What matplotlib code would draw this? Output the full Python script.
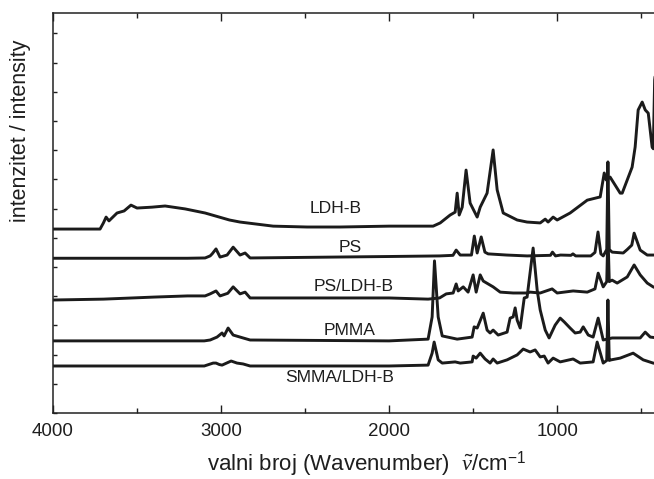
import matplotlib
matplotlib.use("Agg")
import matplotlib.pyplot as plt
from matplotlib.ticker import MultipleLocator

plt.rcParams["font.family"] = ["Liberation Sans", "DejaVu Sans"]
plt.rcParams["mathtext.fontset"] = "custom"
plt.rcParams["mathtext.rm"] = "Liberation Sans"
plt.rcParams["mathtext.it"] = "Liberation Serif:italic"
plt.rcParams["mathtext.bf"] = "Liberation Sans:bold"

# FTIR spectra, stacked (wavenumber in cm^-1, intensity in arbitrary units incl. offset)
ldh_b_wn = [4000, 3720, 3700, 3684, 3667, 3619, 3577, 3536, 3500, 3411, 3333, 3214,
            3095, 2950, 2887, 2690, 2488, 2292, 2000, 1800, 1738, 1696, 1637, 1607,
            1595, 1583, 1565, 1542, 1518, 1476, 1458, 1417, 1381, 1357, 1321, 1238,
            1179, 1101, 1071, 1054, 1024, 1000, 923, 821, 744, 720, 708, 685, 625,
            613, 554, 536, 518, 494, 476, 458, 435, 428, 420, 400]
ldh_b_int = [6.30, 6.30, 6.51, 6.71, 6.58, 6.85, 6.92, 7.12, 7.02, 7.05, 7.09, 6.99,
             6.85, 6.61, 6.54, 6.40, 6.37, 6.37, 6.40, 6.40, 6.40, 6.51, 6.78, 6.88,
             7.53, 6.78, 7.05, 8.32, 7.19, 6.71, 7.05, 7.53, 9.01, 7.64, 6.85, 6.61,
             6.54, 6.51, 6.64, 6.54, 6.71, 6.61, 6.85, 7.29, 7.40, 8.22, 7.98, 8.08, 7.53,
             7.53, 8.42, 9.11, 10.38, 10.65, 10.38, 10.27, 9.11, 9.05, 11.40, 12.5]

ps_wn = [4000, 3200, 3095, 3065, 3053, 3030, 3006, 2964, 2928, 2887,
         2857, 2827, 2500, 2000, 1700, 1620, 1601, 1577, 1510, 1493,
         1476, 1452, 1430, 1411, 1300, 1179, 1040, 1028, 1010, 980,
         918, 906, 890, 800, 775, 757, 740, 726, 705, 698,
         690, 673, 607, 583, 556, 542, 506, 464, 429, 400]
ps_int = [5.30, 5.30, 5.31, 5.38, 5.45, 5.62, 5.34, 5.41, 5.68, 5.41,
          5.48, 5.31, 5.33, 5.36, 5.38, 5.40, 5.58, 5.41, 5.41, 6.06,
          5.48, 6.03, 5.51, 5.45, 5.41, 5.38, 5.40, 5.51, 5.38, 5.41,
          5.40, 5.45, 5.38, 5.38, 5.50, 6.20, 5.45, 5.38, 5.60, 8.60,
          5.60, 5.51, 5.48, 5.60, 5.75, 6.16, 5.58, 5.41, 5.41, 5.41]

ps_ldh_wn = [4000, 3700, 3400, 3200, 3095, 3065, 3030, 3006, 2960, 2928,
             2887, 2857, 2827, 2500, 2000, 1768, 1700, 1660, 1619, 1601,
             1589, 1559, 1530, 1500, 1482, 1458, 1440, 1381, 1339, 1262,
             1179, 1161, 1101, 1030, 1000, 905, 821, 775, 756, 726,
             705, 698, 690, 673, 643, 583, 542, 506, 464, 429, 400]
ps_ldh_int = [3.87, 3.90, 3.97, 4.01, 4.01, 4.08, 4.18, 4.01, 4.10, 4.32,
              4.08, 4.14, 3.94, 3.94, 3.94, 3.90, 3.94, 4.08, 4.11, 4.42,
              4.18, 4.32, 4.14, 4.73, 4.14, 4.73, 4.52, 4.32, 4.14, 4.11,
              4.11, 4.14, 4.11, 4.25, 4.11, 4.18, 4.14, 4.25, 4.79, 4.32,
              4.50, 6.20, 4.50, 4.55, 4.45, 4.66, 5.07, 4.73, 4.45, 4.32, 4.25]

pmma_wn = [4000, 3100, 3065, 3024, 2994, 2982, 2958, 2928, 2869, 2827,
           2000, 1768, 1744, 1730, 1708, 1684, 1595, 1506, 1494, 1476,
           1440, 1417, 1399, 1381, 1351, 1298, 1280, 1262, 1250, 1238,
           1220, 1196, 1179, 1143, 1119, 1101, 1071, 1048, 1012, 982,
           958, 923, 893, 863, 845, 815, 786, 756, 726, 673,
           506, 476, 446, 400]
pmma_int = [2.47, 2.47, 2.50, 2.60, 2.74, 2.64, 2.91, 2.67, 2.57, 2.50,
            2.47, 2.53, 3.29, 5.21, 3.29, 2.64, 2.53, 2.60, 2.95, 2.91,
            3.42, 2.84, 2.74, 2.84, 2.67, 2.77, 3.25, 3.29, 3.60, 3.18,
            2.91, 3.94, 3.97, 5.65, 4.21, 3.53, 2.84, 2.57, 3.01, 3.25,
            3.12, 2.91, 2.74, 2.77, 2.95, 2.67, 2.60, 3.25, 2.50, 2.57,
            2.57, 2.77, 2.60, 2.57]

smma_ldh_wn = [4000, 3100, 3047, 3030, 3010, 2994, 2940, 2905, 2869, 2827,
               2000, 1768, 1744, 1732, 1708, 1684, 1607, 1577, 1506, 1500,
               1482, 1458, 1429, 1399, 1381, 1357, 1298, 1238, 1202, 1161,
               1131, 1101, 1077, 1054, 1024, 982, 905, 863, 786, 762,
               726, 705, 698, 690, 679, 625, 548, 488, 429, 400]
smma_ldh_int = [1.61, 1.61, 1.71, 1.71, 1.66, 1.64, 1.78, 1.71, 1.68, 1.61,
                1.61, 1.64, 2.05, 2.43, 1.82, 1.71, 1.75, 1.71, 1.75, 1.95,
                1.88, 2.05, 1.85, 1.71, 1.85, 1.71, 1.82, 1.99, 2.19, 2.09,
                2.16, 1.92, 1.95, 1.71, 1.88, 1.75, 1.85, 1.71, 1.75, 2.43,
                1.71, 1.80, 3.87, 1.80, 1.82, 1.88, 2.05, 1.82, 1.71, 1.68]

spectra = [
    ("LDH-B", ldh_b_wn, ldh_b_int, (2321, 7.02)),
    ("PS", ps_wn, ps_int, (2232, 5.68)),
    ("PS/LDH-B", ps_ldh_wn, ps_ldh_int, (2214, 4.32)),
    ("PMMA", pmma_wn, pmma_int, (2238, 2.84)),
    ("SMMA/LDH-B", smma_ldh_wn, smma_ldh_int, (2292, 1.20)),
]

line_color = "#1b1b1b"
text_color = "#1e1e1e"

fig = plt.figure(figsize=(6.54, 4.79), dpi=100)
ax = fig.add_axes([53 / 654, 66 / 479, 605 / 654, 400 / 479])

for name, wn, inten, (lx, ly) in spectra:
    ax.plot(wn, inten, color=line_color, lw=2.1, solid_joinstyle="round",
            solid_capstyle="round")
    ax.text(lx, ly, name, ha="center", va="center", fontsize=12.6, color=text_color)

ax.set_xlim(4000, 400)
ax.set_ylim(0, 13.7)

ax.xaxis.set_major_locator(MultipleLocator(1000))
ax.xaxis.set_minor_locator(MultipleLocator(500))
ax.yaxis.set_major_locator(MultipleLocator(1))
ax.tick_params(axis="x", which="major", direction="in", length=6, width=1.0,
               top=True, labelsize=13.5, pad=7, colors=text_color)
ax.tick_params(axis="x", which="minor", direction="in", length=3.5, width=1.0, top=True,
               colors=text_color)
ax.tick_params(axis="y", which="major", direction="in", length=3, width=1.0,
               right=True, labelleft=False, colors=text_color)

for sp in ax.spines.values():
    sp.set_linewidth(1.1)
    sp.set_color("#222222")

ax.set_xlabel("valni broj (Wavenumber)  $\\tilde{\\nu}$/cm$^{-1}$", fontsize=16,
              color=text_color, va="center")
ax.xaxis.set_label_coords(0.519, -0.127)
ax.set_ylabel("intenzitet / intensity", fontsize=15.5, color=text_color, va="center")
ax.yaxis.set_label_coords(-0.0545, 0.705)

fig.savefig("out.png", dpi=100)
